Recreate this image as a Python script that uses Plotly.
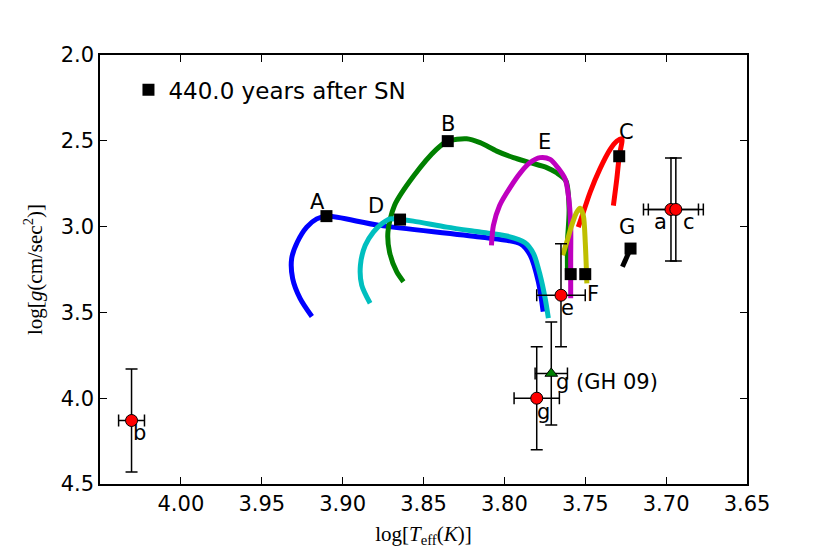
import plotly.graph_objects as go

# evolutionary tracks (log Teff, log g)
trackA_x = [3.919, 3.9263, 3.9309, 3.9315, 3.928, 3.9222, 3.916, 3.910, 3.877, 3.815, 3.790, 3.784, 3.779, 3.776]
trackA_y = [3.524, 3.418, 3.302, 3.186, 3.090, 3.003, 2.955, 2.939, 2.993, 3.061, 3.100, 3.167, 3.321, 3.495]

trackB_x = [3.8624, 3.8666, 3.871, 3.872, 3.868, 3.856, 3.842, 3.835, 3.8233, 3.815, 3.8047, 3.7944,
            3.7841, 3.7738, 3.768, 3.762, 3.760, 3.761, 3.761]
trackB_y = [3.321, 3.263, 3.148, 3.032, 2.878, 2.704, 2.550, 2.502, 2.488, 2.511, 2.560, 2.598,
            2.627, 2.656, 2.685, 2.733, 2.897, 3.090, 3.263]

trackC_x = [3.7543, 3.7512, 3.747, 3.741, 3.7346, 3.7305, 3.7274, 3.729, 3.7305, 3.7326]
trackC_y = [3.003, 2.916, 2.800, 2.665, 2.550, 2.502, 2.488, 2.590, 2.723, 2.878]

trackD_x = [3.883, 3.8882, 3.889, 3.886, 3.881, 3.8758, 3.8707, 3.8645, 3.8563, 3.8356, 3.815,
            3.7985, 3.7872, 3.782, 3.7779, 3.7748, 3.7728]
trackD_y = [3.447, 3.341, 3.225, 3.109, 3.032, 2.984, 2.955, 2.959, 2.968, 3.003, 3.032,
            3.055, 3.094, 3.157, 3.283, 3.418, 3.534]

trackE_x = [3.808, 3.8068, 3.803, 3.7964, 3.790, 3.7841, 3.778, 3.7717, 3.767, 3.7624, 3.7604,
            3.759, 3.759, 3.759]
trackE_y = [3.109, 2.994, 2.878, 2.771, 2.685, 2.627, 2.598, 2.608, 2.656, 2.723, 2.820,
            2.994, 3.186, 3.418]

trackF_x = [3.764, 3.7614, 3.7584, 3.7553, 3.7532, 3.7512, 3.750, 3.749]
trackF_y = [3.167, 3.090, 2.994, 2.916, 2.893, 2.936, 3.090, 3.331]

trackG_x = [3.722, 3.727]
trackG_y = [3.128, 3.234]

track_names = ["A", "B", "C", "D", "E", "F", "G"]
track_colors = ["#0000FF", "#008000", "#FF0000", "#00BFBF", "#BF00BF", "#BFBF00", "#000000"]

# positions 440 years after SN
snap_x = [3.910, 3.835, 3.729, 3.8645, 3.759, 3.750, 3.722]
snap_y = [2.939, 2.502, 2.590, 2.959, 3.277, 3.277, 3.128]

# track labels
label_x = [3.9157, 3.835, 3.7247, 3.8795, 3.775, 3.7454, 3.7243]
label_y = [2.855, 2.400, 2.450, 2.880, 2.505, 3.395, 3.005]

# observed stars
obs_names = ["a", "b", "c", "e", "g"]
obs_x = [3.697, 4.0305, 3.694, 3.765, 3.780]
obs_y = [2.90, 4.13, 2.90, 3.40, 4.00]
obs_xerr = [0.017, 0.008, 0.017, 0.015, 0.014]
obs_yerr = [0.30, 0.30, 0.30, 0.30, 0.30]
obs_label_x = [3.7037, 4.0257, 3.686, 3.761, 3.776]
obs_label_y = [2.975, 4.20, 2.975, 3.475, 4.08]

gh_x = [3.771]
gh_y = [3.856]
gh_xerr = [0.010]
gh_yerr = [0.30]

fig = go.Figure()

tracks = [(trackA_x, trackA_y), (trackB_x, trackB_y), (trackC_x, trackC_y), (trackD_x, trackD_y),
          (trackE_x, trackE_y), (trackF_x, trackF_y), (trackG_x, trackG_y)]
for (tx, ty), name, col in zip(tracks, track_names, track_colors):
    fig.add_trace(go.Scatter(x=tx, y=ty, mode="lines", name=name, showlegend=False,
                             line=dict(color=col, width=5, shape="spline", smoothing=0.8)))

fig.add_trace(go.Scatter(x=snap_x, y=snap_y, mode="markers", name="440.0 years after SN",
                         marker=dict(symbol="square", size=12, color="black")))

fig.add_trace(go.Scatter(
    x=obs_x, y=obs_y, mode="markers", showlegend=False,
    marker=dict(symbol="circle", size=12, color="#FF0000", line=dict(color="black", width=1)),
    error_x=dict(type="data", array=obs_xerr, color="black", thickness=1.5, width=6),
    error_y=dict(type="data", array=obs_yerr, color="black", thickness=1.5, width=6)))

fig.add_trace(go.Scatter(
    x=gh_x, y=gh_y, mode="markers", showlegend=False,
    marker=dict(symbol="triangle-up", size=11, color="#008000", line=dict(color="black", width=1)),
    error_x=dict(type="data", array=gh_xerr, color="black", thickness=1.5, width=6),
    error_y=dict(type="data", array=gh_yerr, color="black", thickness=1.5, width=6)))

txtfont = dict(family="DejaVu Sans", size=21, color="black")
for lx, ly, t in zip(label_x, label_y, track_names):
    fig.add_annotation(x=lx, y=ly, text=t, showarrow=False, font=txtfont)
for lx, ly, t in zip(obs_label_x, obs_label_y, obs_names):
    fig.add_annotation(x=lx, y=ly, text=t, showarrow=False, font=txtfont)
fig.add_annotation(x=3.7695, y=3.905, text="g (GH 09)", showarrow=False, xanchor="left", font=txtfont)

axis_style = dict(showgrid=False, zeroline=False, showline=True, linecolor="black", linewidth=1.5,
                  mirror="ticks", ticks="inside", ticklen=7, tickwidth=1, tickcolor="black",
                  tickfont=dict(family="DejaVu Sans", size=21, color="black"))

fig.update_xaxes(range=[4.05, 3.65], tickvals=[4.00, 3.95, 3.90, 3.85, 3.80, 3.75, 3.70, 3.65],
                 tickformat=".2f",
                 title=dict(text="log[<i>T</i><sub>eff</sub>(<i>K</i>)]", standoff=11,
                            font=dict(family="Liberation Serif", size=21, color="black")),
                 **axis_style)
fig.update_yaxes(range=[4.5, 2.0], tickvals=[2.0, 2.5, 3.0, 3.5, 4.0, 4.5], tickformat=".1f",
                 title=dict(text="log[<i>g</i>(cm/sec<sup>2</sup>)]", standoff=12,
                            font=dict(family="Liberation Serif", size=21, color="black")),
                 **axis_style)

fig.update_layout(
    width=830, height=554,
    margin=dict(l=100, r=83, t=55, b=67),
    plot_bgcolor="white", paper_bgcolor="white",
    legend=dict(x=0.044, y=0.919, xanchor="left", yanchor="middle", bgcolor="rgba(0,0,0,0)",
                font=dict(family="DejaVu Sans", size=23, color="black")),
)

# drop the page's default 8px body margin so the figure sits at the window corner
fig.write_html("out.html", config={"displayModeBar": False},
               post_script="document.body.style.margin='0';")
